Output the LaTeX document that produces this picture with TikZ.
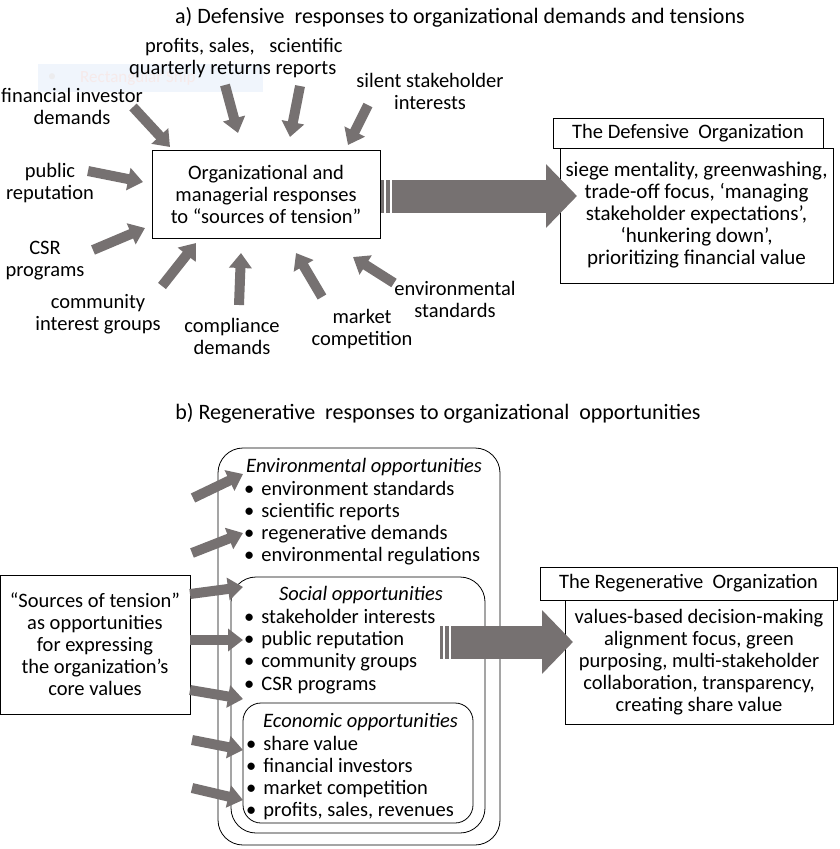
\documentclass[tikz,border=0pt]{standalone}
\usepackage{fontspec}
\setmainfont{Carlito}
\usetikzlibrary{arrows.meta}
\definecolor{agray}{RGB}{118,113,113}
\definecolor{ghostfill}{RGB}{240,245,252}
\definecolor{ghosttext}{RGB}{246,234,234}
\definecolor{ghostdot}{RGB}{236,236,238}
\begin{document}
\begin{tikzpicture}[x=1pt,y=-1pt,
  font=\fontsize{20.5}{22}\selectfont,
  txt/.style={align=center, inner sep=0pt},
  ttl/.style={align=center, inner sep=0pt, font=\fontsize{22}{24}\selectfont},
  box/.style={draw, line width=0.8pt, inner sep=0pt, align=center},
  rbox/.style={draw, line width=0.8pt, inner sep=0pt},
  lit/.style={anchor=west, inner sep=0pt, text height=15pt, text depth=5pt},
  fat/.style={draw=agray, line width=10pt, -{Triangle[length=15pt,width=22pt]}},
  big/.style={draw=agray, line width=33pt, -{Triangle[length=31pt,width=62pt]}},
  stripe/.style={fill=agray, draw=none}
]
\useasboundingbox (0,0) rectangle (839,849);

% ---------- (a) ----------
\node[ttl] (titlea) at (460,17) {a) Defensive~ responses to organizational demands and tensions};

% faint leftover shape
\node[fill=ghostfill, draw=none, minimum width=225, minimum height=28, inner sep=0] (ghost) at (150.5,78) {};
\node[inner sep=0, font=\fontsize{17}{19}\selectfont, text=ghosttext, anchor=west] (ghostt) at (80,78) {Rectangular Ship};
\node[inner sep=0, font=\fontsize{17}{19}\selectfont, text=ghostdot, anchor=center] (ghostb) at (52,78) {\textbullet};

\node[txt] (profits) at (200,58.5) {profits, sales,\\quarterly returns};
\node[txt] (scient) at (306,58.5) {scientific\\reports};
\node[txt] (silent) at (430,91) {silent stakeholder\\interests};
\node[txt] (financ) at (72,106) {financial investor\\demands};
\node[txt] (public) at (50,183) {public\\reputation};
\node[txt] (csr) at (45,261) {CSR\\programs};
\node[txt] (commun) at (98,314) {community\\interest groups};
\node[txt] (compl) at (232,336) {compliance\\demands};
\node[txt] (market) at (362,329) {market\\competition};
\node[txt] (envst) at (455,299) {environmental\\standards};

\node[box, minimum width=228, minimum height=88] (central) at (266,194)
  {Organizational and\\managerial responses\\to “sources of tension”};

\node[box, minimum width=270, minimum height=30] (deftitle) at (688,133) {The Defensive~ Organization};
\node[box, minimum width=273, minimum height=135, font=\fontsize{21}{22}\selectfont] (defbody) at (696.5,215.5)
  {siege mentality, greenwashing,\\trade-off focus, ‘managing\\stakeholder expectations’,\\‘hunkering down’,\\prioritizing financial value};

% arrow end points (a)
\coordinate (fiS) at (133,107); \coordinate (fiT) at (170,147);
\coordinate (prS) at (225,85);  \coordinate (prT) at (238,133);
\coordinate (scS) at (300,86);  \coordinate (scT) at (290,137);
\coordinate (siS) at (368,105); \coordinate (siT) at (348,145);
\coordinate (puS) at (88,171);  \coordinate (puT) at (143,182);
\coordinate (csS) at (93,250);  \coordinate (csT) at (145,228);
\coordinate (coS) at (162,286); \coordinate (coT) at (196,243);
\coordinate (cmS) at (239,305); \coordinate (cmT) at (241,253);
\coordinate (mkS) at (322,297); \coordinate (mkT) at (296,253);
\coordinate (enS) at (394,283); \coordinate (enT) at (353,257);
\foreach \a in {fi,pr,sc,si,pu,cs,co,cm,mk,en}{\draw[fat] (\a S) -- (\a T);}

% big striped arrow (a)
\coordinate (bigaS) at (392,196); \coordinate (bigaT) at (577,196);
\fill[stripe] (381,179.5) rectangle (383.5,212.5);
\fill[stripe] (386,179.5) rectangle (389.5,212.5);
\draw[big] (bigaS) -- (bigaT);

% ---------- (b) ----------
\node[ttl] (titleb) at (438,413) {b) Regenerative~ responses to organizational~ opportunities};

\node[rbox, rounded corners=25pt, minimum width=282, minimum height=397] (outer) at (359,646.5) {};
\node[rbox, rounded corners=25pt, minimum width=254, minimum height=256] (social) at (358,705) {};
\node[rbox, rounded corners=18pt, minimum width=230, minimum height=120] (econ) at (358,763) {};

\node[lit, font=\fontsize{20.5}{22}\selectfont\itshape] (envh) at (246,467) {Environmental opportunities};
\node[lit] (e1) at (244,490) {\textbullet\hspace{7pt}environment standards};
\node[lit] (e2) at (244,512) {\textbullet\hspace{7pt}scientific reports};
\node[lit] (e3) at (244,534) {\textbullet\hspace{7pt}regenerative demands};
\node[lit] (e4) at (244,556) {\textbullet\hspace{7pt}environmental regulations};

\node[txt, text height=15pt, text depth=5pt, font=\fontsize{20.5}{22}\selectfont\itshape] (soch) at (361,595) {Social opportunities};
\node[lit] (s1) at (244,618) {\textbullet\hspace{7pt}stakeholder interests};
\node[lit] (s2) at (244,640) {\textbullet\hspace{7pt}public reputation};
\node[lit] (s3) at (244,662) {\textbullet\hspace{7pt}community groups};
\node[lit] (s4) at (244,685) {\textbullet\hspace{7pt}CSR programs};

\node[lit, font=\fontsize{20.5}{22}\selectfont\itshape] (ecoh) at (263,722) {Economic opportunities};
\node[lit] (c1) at (246,745) {\textbullet\hspace{7pt}share value};
\node[lit] (c2) at (246,767) {\textbullet\hspace{7pt}financial investors};
\node[lit] (c3) at (246,789) {\textbullet\hspace{7pt}market competition};
\node[lit] (c4) at (246,811) {\textbullet\hspace{7pt}profits, sales, revenues};

\node[box, minimum width=190, minimum height=139] (sources) at (95,644.5)
  {“Sources of tension”\\as opportunities\\for expressing\\the organization’s\\core values};

\node[box, minimum width=297, minimum height=33] (regtitle) at (688.5,583.5) {The Regenerative~ Organization};
\node[box, minimum width=268, minimum height=124] (regbody) at (699,662)
  {values-based decision-making\\alignment focus, green\\purposing, multi-stakeholder\\collaboration, transparency,\\creating share value};

% arrow end points (b)
\coordinate (b1S) at (193,498); \coordinate (b1T) at (243,474);
\coordinate (b2S) at (192,553); \coordinate (b2T) at (243,533);
\coordinate (b3S) at (190,594); \coordinate (b3T) at (243,587);
\coordinate (b4S) at (190,640); \coordinate (b4T) at (243,640);
\coordinate (b5S) at (190,690); \coordinate (b5T) at (243,699);
\coordinate (b6S) at (192,740); \coordinate (b6T) at (243,750);
\coordinate (b7S) at (192,788); \coordinate (b7T) at (243,800);
\foreach \a in {b1,b2,b3,b4,b5,b6,b7}{\draw[fat] (\a S) -- (\a T);}

% big striped arrow (b)
\coordinate (bigbS) at (451,642); \coordinate (bigbT) at (573,642);
\fill[stripe] (440,625.5) rectangle (442.5,658.5);
\fill[stripe] (445,625.5) rectangle (448.5,658.5);
\draw[big] (bigbS) -- (bigbT);
\end{tikzpicture}
\end{document}
